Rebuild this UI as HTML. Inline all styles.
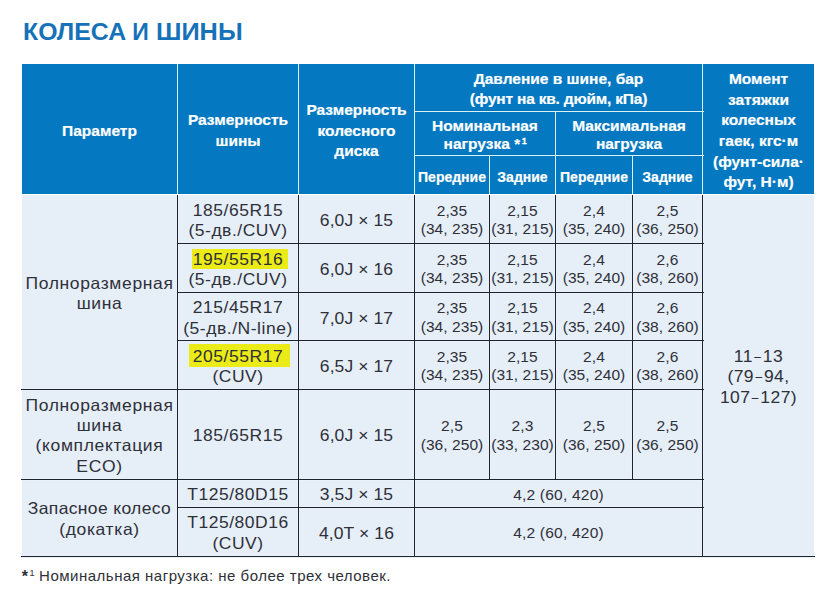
<!DOCTYPE html>
<html><head><meta charset="utf-8">
<style>
html,body{margin:0;padding:0;background:#fff;}
body{width:838px;height:604px;position:relative;overflow:hidden;font-family:"Liberation Sans",sans-serif;}
div{position:absolute;box-sizing:border-box;}
.title{top:17px;font-size:23px;line-height:30px;font-weight:bold;color:#1672b8;white-space:nowrap;transform-origin:0 0;}
.hb{background:#0478c0;}
.wl{background:#d4f4f9;}
.wha{background:#0672b8;}
.whb{background:#0478c0;}
.bb{background:#e6eef8;}
.dl{background:#1d2430;}
.hl{background:#eaf1f9;}
.h{color:#fff;font-weight:bold;font-size:15.5px;line-height:20px;text-align:center;white-space:nowrap;-webkit-text-stroke:0.2px #fff;}
.h14{font-size:14px;}
.t{color:#2e3038;font-size:16.5px;line-height:20px;letter-spacing:0.5px;transform:scaleX(1.06);text-align:center;white-space:nowrap;}
.c1{letter-spacing:0.6px;}
.c3{letter-spacing:0.1px;}
.c8{letter-spacing:0.4px;}
.p{color:#2e3038;font-size:15px;line-height:20px;letter-spacing:0.05px;transform:scaleX(1.035);text-align:center;white-space:nowrap;}
.y{background:#ebeb17;}
.fn{color:#2e3038;font-size:16px;line-height:20px;white-space:nowrap;}
</style></head><body>
<div class="title" style="left:22.6px;transform:scaleX(1.08);">КОЛЕСА</div>
<div class="title" style="left:132.2px;">И</div>
<div class="title" style="left:155.6px;transform:scaleX(1.1);">ШИНЫ</div>
<div class="hb" style="left:22px;top:64px;width:792px;height:130px;"></div>
<div class="wha" style="left:176px;top:64px;width:1px;height:130px;"></div>
<div class="whb" style="left:178px;top:64px;width:1px;height:130px;"></div>
<div class="wha" style="left:297px;top:64px;width:1px;height:130px;"></div>
<div class="whb" style="left:299px;top:64px;width:1px;height:130px;"></div>
<div class="wha" style="left:413px;top:64px;width:1px;height:130px;"></div>
<div class="whb" style="left:415px;top:64px;width:1px;height:130px;"></div>
<div class="wha" style="left:701px;top:64px;width:1px;height:130px;"></div>
<div class="whb" style="left:703px;top:64px;width:1px;height:130px;"></div>
<div class="wha" style="left:414px;top:110px;width:290px;height:1px;"></div>
<div class="whb" style="left:414px;top:112px;width:290px;height:1px;"></div>
<div class="wha" style="left:414px;top:154px;width:290px;height:1px;"></div>
<div class="whb" style="left:414px;top:156px;width:290px;height:1px;"></div>
<div class="wha" style="left:554px;top:111px;width:1px;height:83px;"></div>
<div class="whb" style="left:556px;top:111px;width:1px;height:83px;"></div>
<div class="wha" style="left:488px;top:155px;width:1px;height:39px;"></div>
<div class="whb" style="left:490px;top:155px;width:1px;height:39px;"></div>
<div class="wha" style="left:631px;top:155px;width:1px;height:39px;"></div>
<div class="whb" style="left:633px;top:155px;width:1px;height:39px;"></div>
<div class="wl" style="left:177px;top:64px;width:1px;height:130px;"></div>
<div class="wl" style="left:298px;top:64px;width:1px;height:130px;"></div>
<div class="wl" style="left:414px;top:64px;width:1px;height:130px;"></div>
<div class="wl" style="left:702px;top:64px;width:1px;height:130px;"></div>
<div class="wl" style="left:414px;top:111px;width:290px;height:1px;"></div>
<div class="wl" style="left:414px;top:155px;width:290px;height:1px;"></div>
<div class="wl" style="left:555px;top:111px;width:1px;height:83px;"></div>
<div class="wl" style="left:489px;top:155px;width:1px;height:39px;"></div>
<div class="wl" style="left:632px;top:155px;width:1px;height:39px;"></div>
<div class="bb" style="left:22px;top:195px;width:792px;height:361px;"></div>
<div class="hl" style="left:176px;top:195px;width:3px;height:361px;"></div>
<div class="hl" style="left:297px;top:195px;width:3px;height:361px;"></div>
<div class="hl" style="left:413px;top:195px;width:3px;height:361px;"></div>
<div class="hl" style="left:701px;top:195px;width:3px;height:361px;"></div>
<div class="hl" style="left:488px;top:195px;width:3px;height:284px;"></div>
<div class="hl" style="left:554px;top:195px;width:3px;height:284px;"></div>
<div class="hl" style="left:631px;top:195px;width:3px;height:284px;"></div>
<div class="hl" style="left:177px;top:242px;width:527px;height:3px;"></div>
<div class="hl" style="left:177px;top:291px;width:527px;height:3px;"></div>
<div class="hl" style="left:177px;top:339px;width:527px;height:3px;"></div>
<div class="hl" style="left:177px;top:506px;width:527px;height:3px;"></div>
<div class="hl" style="left:21px;top:388px;width:683px;height:3px;"></div>
<div class="hl" style="left:21px;top:478px;width:683px;height:3px;"></div>
<div class="hl" style="left:21px;top:555px;width:794px;height:3px;"></div>
<div class="dl" style="left:177px;top:195px;width:1px;height:361px;"></div>
<div class="dl" style="left:298px;top:195px;width:1px;height:361px;"></div>
<div class="dl" style="left:414px;top:195px;width:1px;height:361px;"></div>
<div class="dl" style="left:702px;top:195px;width:1px;height:361px;"></div>
<div class="dl" style="left:489px;top:195px;width:1px;height:284px;"></div>
<div class="dl" style="left:555px;top:195px;width:1px;height:284px;"></div>
<div class="dl" style="left:632px;top:195px;width:1px;height:284px;"></div>
<div class="dl" style="left:177px;top:243px;width:527px;height:1px;"></div>
<div class="dl" style="left:177px;top:292px;width:527px;height:1px;"></div>
<div class="dl" style="left:177px;top:340px;width:527px;height:1px;"></div>
<div class="dl" style="left:177px;top:507px;width:527px;height:1px;"></div>
<div class="dl" style="left:21px;top:389px;width:683px;height:1px;"></div>
<div class="dl" style="left:21px;top:479px;width:683px;height:1px;"></div>
<div class="dl" style="left:21px;top:556px;width:794px;height:1px;"></div>
<div class="h" style="left:22px;width:155px;top:121px;">Параметр</div>
<div class="h" style="left:178px;width:120px;top:110px;">Размерность</div>
<div class="h" style="left:178px;width:120px;top:131px;">шины</div>
<div class="h" style="left:299px;width:115px;top:100px;">Размерность</div>
<div class="h" style="left:299px;width:115px;top:121px;">колесного</div>
<div class="h" style="left:299px;width:115px;top:141px;">диска</div>
<div class="h" style="left:415px;width:287px;top:69px;">Давление в шине, бар</div>
<div class="h" style="left:415px;width:287px;top:89px;letter-spacing:-0.2px;">(фунт на кв. дюйм, кПа)</div>
<div class="h" style="left:415px;width:140px;top:116px;">Номинальная</div>
<div class="h" style="left:443.6px;top:134px;">нагрузка</div>
<div class="h" style="left:514.2px;top:136.2px;font-size:15px;line-height:15px;">*</div>
<div class="h" style="left:521.8px;top:137.2px;font-size:9px;line-height:9px;-webkit-text-stroke:0.3px #fff;">1</div>
<div class="h" style="left:556px;width:146px;top:116px;">Максимальная</div>
<div class="h" style="left:556px;width:146px;top:134px;">нагрузка</div>
<div class="h h14" style="left:415px;width:74px;top:167px;">Передние</div>
<div class="h h14" style="left:490px;width:65px;top:167px;">Задние</div>
<div class="h h14" style="left:556px;width:76px;top:167px;">Передние</div>
<div class="h h14" style="left:633px;width:69px;top:167px;">Задние</div>
<div class="h" style="left:703px;width:111px;top:69px;">Момент</div>
<div class="h" style="left:703px;width:111px;top:90px;">затяжки</div>
<div class="h" style="left:703px;width:111px;top:110px;">колесных</div>
<div class="h" style="left:703px;width:111px;top:131px;">гаек, кгс·м</div>
<div class="h" style="left:703px;width:111px;top:152px;">(фунт-сила·</div>
<div class="h" style="left:703px;width:111px;top:172px;">фут, Н·м)</div>
<div class="y" style="left:192px;top:249px;width:96px;height:20px;"></div>
<div class="y" style="left:189px;top:344px;width:101px;height:23px;"></div>
<div class="t c1" style="left:22px;width:155px;top:273px;">Полноразмерная</div>
<div class="t c1" style="left:22px;width:155px;top:293px;">шина</div>
<div class="t c1" style="left:22px;width:155px;top:395px;">Полноразмерная</div>
<div class="t c1" style="left:22px;width:155px;top:415px;">шина</div>
<div class="t c1" style="left:22px;width:155px;top:435px;">(комплектация</div>
<div class="t c1" style="left:22px;width:155px;top:456px;">ECO)</div>
<div class="t c1" style="left:22px;width:155px;top:498px;letter-spacing:0.33px;">Запасное колесо</div>
<div class="t c1" style="left:22px;width:155px;top:519px;">(докатка)</div>
<div class="t" style="left:178px;width:120px;top:200px;">185/65R15</div>
<div class="t" style="left:178px;width:120px;top:220px;">(5-дв./CUV)</div>
<div class="t" style="left:178px;width:120px;top:249px;">195/55R16</div>
<div class="t" style="left:178px;width:120px;top:269px;">(5-дв./CUV)</div>
<div class="t" style="left:178px;width:120px;top:297px;">215/45R17</div>
<div class="t" style="left:178px;width:120px;top:318px;">(5-дв./N-line)</div>
<div class="t" style="left:178px;width:120px;top:346px;">205/55R17</div>
<div class="t" style="left:178px;width:120px;top:366px;">(CUV)</div>
<div class="t" style="left:178px;width:120px;top:425px;">185/65R15</div>
<div class="t" style="left:178px;width:120px;top:484px;">T125/80D15</div>
<div class="t" style="left:178px;width:120px;top:512px;">T125/80D16</div>
<div class="t" style="left:178px;width:120px;top:533px;">(CUV)</div>
<div class="t c3" style="left:299px;width:115px;top:210px;">6,0J × 15</div>
<div class="t c3" style="left:299px;width:115px;top:259px;">6,0J × 16</div>
<div class="t c3" style="left:299px;width:115px;top:308px;">7,0J × 17</div>
<div class="t c3" style="left:299px;width:115px;top:356px;">6,5J × 17</div>
<div class="t c3" style="left:299px;width:115px;top:425px;">6,0J × 15</div>
<div class="t c3" style="left:299px;width:115px;top:484px;">3,5J × 15</div>
<div class="t c3" style="left:299px;width:115px;top:523px;">4,0T × 16</div>
<div class="p" style="left:415px;width:74px;top:201px;">2,35</div>
<div class="p" style="left:415px;width:74px;top:219px;">(34, 235)</div>
<div class="p" style="left:490px;width:65px;top:201px;">2,15</div>
<div class="p" style="left:490px;width:65px;top:219px;">(31, 215)</div>
<div class="p" style="left:556px;width:76px;top:201px;">2,4</div>
<div class="p" style="left:556px;width:76px;top:219px;">(35, 240)</div>
<div class="p" style="left:633px;width:69px;top:201px;">2,5</div>
<div class="p" style="left:633px;width:69px;top:219px;">(36, 250)</div>
<div class="p" style="left:415px;width:74px;top:250px;">2,35</div>
<div class="p" style="left:415px;width:74px;top:268px;">(34, 235)</div>
<div class="p" style="left:490px;width:65px;top:250px;">2,15</div>
<div class="p" style="left:490px;width:65px;top:268px;">(31, 215)</div>
<div class="p" style="left:556px;width:76px;top:250px;">2,4</div>
<div class="p" style="left:556px;width:76px;top:268px;">(35, 240)</div>
<div class="p" style="left:633px;width:69px;top:250px;">2,6</div>
<div class="p" style="left:633px;width:69px;top:268px;">(38, 260)</div>
<div class="p" style="left:415px;width:74px;top:298px;">2,35</div>
<div class="p" style="left:415px;width:74px;top:317px;">(34, 235)</div>
<div class="p" style="left:490px;width:65px;top:298px;">2,15</div>
<div class="p" style="left:490px;width:65px;top:317px;">(31, 215)</div>
<div class="p" style="left:556px;width:76px;top:298px;">2,4</div>
<div class="p" style="left:556px;width:76px;top:317px;">(35, 240)</div>
<div class="p" style="left:633px;width:69px;top:298px;">2,6</div>
<div class="p" style="left:633px;width:69px;top:317px;">(38, 260)</div>
<div class="p" style="left:415px;width:74px;top:347px;">2,35</div>
<div class="p" style="left:415px;width:74px;top:365px;">(34, 235)</div>
<div class="p" style="left:490px;width:65px;top:347px;">2,15</div>
<div class="p" style="left:490px;width:65px;top:365px;">(31, 215)</div>
<div class="p" style="left:556px;width:76px;top:347px;">2,4</div>
<div class="p" style="left:556px;width:76px;top:365px;">(35, 240)</div>
<div class="p" style="left:633px;width:69px;top:347px;">2,6</div>
<div class="p" style="left:633px;width:69px;top:365px;">(38, 260)</div>
<div class="p" style="left:415px;width:74px;top:416px;">2,5</div>
<div class="p" style="left:415px;width:74px;top:435px;">(36, 250)</div>
<div class="p" style="left:490px;width:65px;top:416px;">2,3</div>
<div class="p" style="left:490px;width:65px;top:435px;">(33, 230)</div>
<div class="p" style="left:556px;width:76px;top:416px;">2,5</div>
<div class="p" style="left:556px;width:76px;top:435px;">(36, 250)</div>
<div class="p" style="left:633px;width:69px;top:416px;">2,5</div>
<div class="p" style="left:633px;width:69px;top:435px;">(36, 250)</div>
<div class="p" style="left:415px;width:287px;top:485px;letter-spacing:0.2px;">4,2 (60, 420)</div>
<div class="p" style="left:415px;width:287px;top:523px;letter-spacing:0.2px;">4,2 (60, 420)</div>
<div class="t c8" style="left:703px;width:111px;top:346px;">11<span style="font-size:13px;letter-spacing:1.2px;margin-left:0.6px">−</span>13</div>
<div class="t c8" style="left:703px;width:111px;top:366px;">(79<span style="font-size:13px;letter-spacing:1.2px;margin-left:0.6px">−</span>94,</div>
<div class="t c8" style="left:703px;width:111px;top:387px;">107<span style="font-size:13px;letter-spacing:1.2px;margin-left:0.6px">−</span>127)</div>
<div class="fn" style="left:39.1px;top:566px;font-size:15px;letter-spacing:0.5px;">Номинальная нагрузка: не более трех человек.</div>
<div class="fn" style="left:21.8px;top:569px;font-size:16px;line-height:16px;font-weight:bold;">*</div>
<div class="fn" style="left:29.5px;top:568.5px;font-size:9px;line-height:9px;">1</div>
</body></html>
